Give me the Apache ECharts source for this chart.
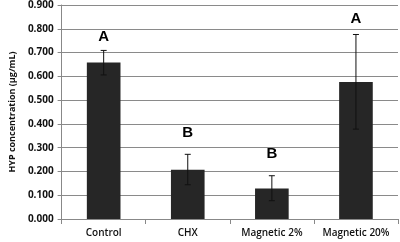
<!DOCTYPE html>
<html>
<head>
<meta charset="utf-8">
<script src="https://cdn.jsdelivr.net/npm/echarts@6/dist/echarts.min.js"></script>
<style>
  html, body { margin: 0; padding: 0; background: #fff; }
</style>
</head>
<body>
<div id="myChart" style="width:400px;height:242px;"></div>
<script>
var categories = ['Control', 'CHX', 'Magnetic 2%', 'Magnetic 20%'];
var means = [0.658, 0.207, 0.128, 0.576];
var errLow = [0.606, 0.144, 0.077, 0.378];
var errHigh = [0.709, 0.272, 0.182, 0.776];
var letters = ['A', 'B', 'B', 'A'];
var letterPos = [0.765, 0.364, 0.273, 0.843];

var font = '"Open Sans", "Liberation Sans", sans-serif';

// 基于准备好的dom，初始化echarts实例
var myChart = echarts.init(document.getElementById('myChart'));

myChart.setOption({
  animation: false,
  grid: { left: 54, right: 2, top: 5, bottom: 23 },
  xAxis: {
    type: 'category',
    data: categories,
    axisLine: { lineStyle: { color: '#888' } },
    axisTick: { show: true, length: 5, lineStyle: { color: '#888' } },
    axisLabel: { interval: 0, color: '#111', fontFamily: font, fontSize: 10, fontWeight: 600, margin: 9 }
  },
  yAxis: {
    type: 'value',
    min: 0,
    max: 0.9,
    interval: 0.1,
    name: 'HYP concentration (µg/mL)',
    nameLocation: 'middle',
    nameGap: 44,
    nameTextStyle: { color: '#111', fontFamily: font, fontSize: 9, fontWeight: 'bold' },
    axisLine: { show: true, lineStyle: { color: '#888' } },
    axisTick: { show: true, length: 4, lineStyle: { color: '#888' } },
    axisLabel: {
      color: '#111', fontFamily: font, fontSize: 10, fontWeight: 'bold', margin: 8,
      formatter: function (v) { return v.toFixed(3); }
    },
    splitLine: { lineStyle: { color: '#8a8a8a', width: 1 } }
  },
  series: [{
    type: 'bar',
    data: means,
    barWidth: '40%',
    itemStyle: { color: '#262626' }
  }, {
    type: 'custom',
    data: categories.map(function (c, i) { return [i, errLow[i], errHigh[i]]; }),
    renderItem: function (params, api) {
      var lo = api.coord([api.value(0), api.value(1)]);
      var hi = api.coord([api.value(0), api.value(2)]);
      var w = 3;
      var st = { stroke: '#111', lineWidth: 1 };
      return {
        type: 'group',
        children: [
          { type: 'line', shape: { x1: hi[0], y1: hi[1], x2: lo[0], y2: lo[1] }, style: st },
          { type: 'line', shape: { x1: hi[0] - w, y1: hi[1], x2: hi[0] + w, y2: hi[1] }, style: st },
          { type: 'line', shape: { x1: lo[0] - w, y1: lo[1], x2: lo[0] + w, y2: lo[1] }, style: st }
        ]
      };
    },
    z: 5
  }, {
    type: 'scatter',
    symbolSize: 0,
    itemStyle: { opacity: 1 },
    data: letterPos.map(function (v, i) { return [i, v]; }),
    label: {
      show: true,
      position: 'inside',
      formatter: function (p) { return letters[p.dataIndex]; },
      color: '#000',
      opacity: 1,
      fontFamily: '"Liberation Sans", Arial, sans-serif',
      fontSize: 15,
      fontWeight: 'bold'
    },
    z: 6
  }]
});
</script>
</body>
</html>
